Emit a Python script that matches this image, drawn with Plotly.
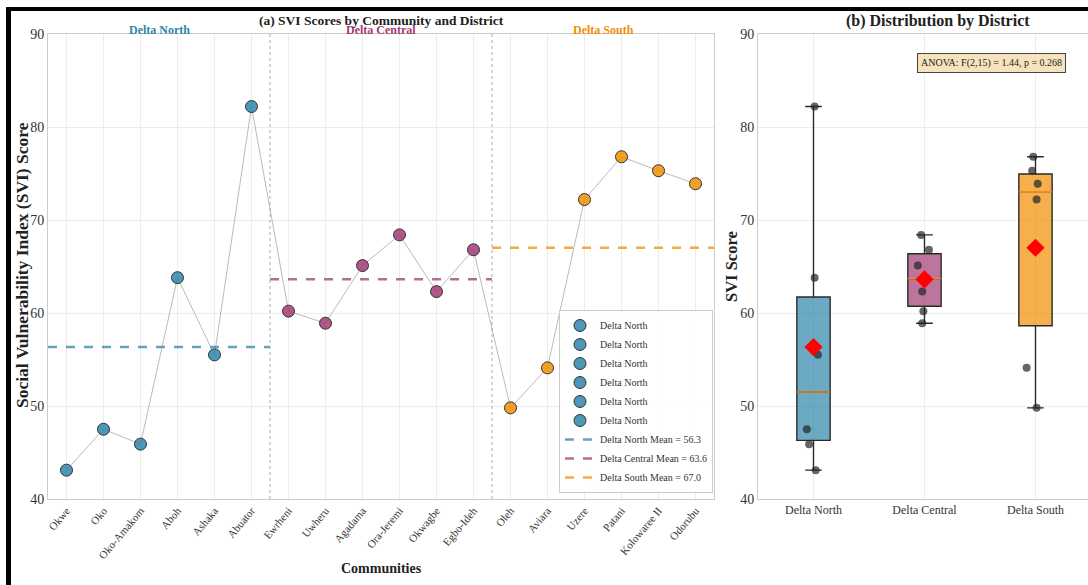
import numpy as np
import plotly.graph_objects as go

# ---- data -------------------------------------------------------------
communities = ["Okwe", "Oko", "Oko-Amakom", "Aboh", "Ashaka", "Abuator",
               "Ewrheni", "Uwheru", "Agadama", "Ora-Jeremi", "Okwagbe", "Egbo-Ideh",
               "Oleh", "Aviara", "Uzere", "Patani", "Kolowaree II", "Odorubu"]
community_district = (["Delta North"] * 6 + ["Delta Central"] * 6 + ["Delta South"] * 6)
svi_scores = [43.1, 47.5, 45.9, 63.8, 55.5, 82.2,
              60.2, 58.9, 65.1, 68.4, 62.3, 66.8,
              49.8, 54.1, 72.2, 76.8, 75.3, 73.9]
district_names = ["Delta North", "Delta Central", "Delta South"]
district_colors = ["#2E86AB", "#A23B72", "#F18F01"]
# horizontal jitter of the sample dots in the box panel (category units)
dot_jitter = [0.02, -0.06, -0.04, 0.01, 0.04, 0.01,
              -0.01, -0.02, -0.06, -0.03, -0.02, 0.04,
              0.01, -0.08, 0.01, -0.02, -0.03, 0.02]
anova_text = "ANOVA: F(2,15) = 1.44, p = 0.268"

W, H = 1088, 585
FONT = "Liberation Serif"


def rgba(hex_color, a):
    h = hex_color.lstrip("#")
    r, g, b = int(h[0:2], 16), int(h[2:4], 16), int(h[4:6], 16)
    return f"rgba({r},{g},{b},{a})"


def px(xp):
    return xp / W


def py(yp):
    return 1 - yp / H


fig = go.Figure()
positions = np.arange(len(communities))
scores = np.array(svi_scores)
dists = np.array(community_district)

# ---- panel (a): scores by community -----------------------------------
fig.add_trace(go.Scatter(
    x=positions, y=scores, mode="lines",
    line=dict(color="rgba(140,140,140,0.6)", width=1),
    showlegend=False, hoverinfo="skip", xaxis="x", yaxis="y"))

for i, (name, d, v) in enumerate(zip(communities, community_district, svi_scores)):
    c = district_colors[district_names.index(d)]
    fig.add_trace(go.Scatter(
        x=[i], y=[v], mode="markers", name="Delta North",
        marker=dict(size=12, color=rgba(c, 0.85), line=dict(color="#333333", width=1)),
        showlegend=(d == "Delta North"), legendgroup=f"pt{i}",
        xaxis="x", yaxis="y"))

for d, c in zip(district_names, district_colors):
    idx = positions[dists == d]
    m = scores[dists == d].mean()
    fig.add_trace(go.Scatter(
        x=[idx.min() - 0.5, idx.max() + 0.5], y=[m, m], mode="lines",
        name=f"{d} Mean = {m:.1f}",
        line=dict(color=rgba(c, 0.75), width=2.5, dash="dash"),
        xaxis="x", yaxis="y"))

shapes = []
annotations = []
for d, c in zip(district_names, district_colors):
    idx = positions[dists == d]
    if idx.min() > 0:
        shapes.append(dict(type="line", xref="x", yref="y domain",
                           x0=idx.min() - 0.5, x1=idx.min() - 0.5, y0=0, y1=1,
                           line=dict(color="rgba(150,150,150,0.8)", width=1, dash="dot")))
    annotations.append(dict(x=idx.mean(), y=90, xref="x", yref="y", yshift=4,
                            xanchor="center", yanchor="middle",
                            text=f"<b>{d}</b>", showarrow=False,
                            font=dict(family=FONT, size=12, color=c)))

# ---- panel (b): distribution by district ------------------------------
for k, (d, c) in enumerate(zip(district_names, district_colors)):
    vals = scores[dists == d]
    q1, med, q3 = np.percentile(vals, [25, 50, 75])
    iqr = q3 - q1
    lo = vals[vals >= q1 - 1.5 * iqr].min()
    hi = vals[vals <= q3 + 1.5 * iqr].max()
    fig.add_trace(go.Box(
        x=[k], q1=[q1], median=[med], q3=[q3], lowerfence=[lo], upperfence=[hi],
        width=0.3, whiskerwidth=0.5, fillcolor=rgba(c, 0.7),
        line=dict(color="#2a2a2a", width=1.4), boxpoints=False,
        showlegend=False, hoverinfo="skip", xaxis="x2", yaxis="y2"))
    fig.add_trace(go.Scatter(
        x=[k - 0.15, k + 0.15], y=[med, med], mode="lines",
        line=dict(color="#F5871F", width=1.5), showlegend=False,
        hoverinfo="skip", xaxis="x2", yaxis="y2"))
    jit = np.array(dot_jitter)[dists == d]
    fig.add_trace(go.Scatter(
        x=k + jit, y=vals, mode="markers",
        marker=dict(size=8, color="rgba(35,35,35,0.7)"),
        showlegend=False, xaxis="x2", yaxis="y2"))
    fig.add_trace(go.Scatter(
        x=[k], y=[vals.mean()], mode="markers",
        marker=dict(symbol="diamond", size=14, color="#FF0000"),
        showlegend=False, xaxis="x2", yaxis="y2"))


def label(x, y, text, size, angle=0, **extra):
    d = dict(x=px(x), y=py(y), xref="paper", yref="paper", text=text,
             showarrow=False, xanchor="center", yanchor="middle", textangle=angle,
             font=dict(family=FONT, size=size, color="#222222"))
    d.update(extra)
    return d


annotations += [
    label(381, 21, "<b>(a) SVI Scores by Community and District</b>", 13.5),
    label(938, 21, "<b>(b) Distribution by District</b>", 16),
    label(381, 568, "<b>Communities</b>", 14),
    label(22, 265, "<b>Social Vulnerability Index (SVI) Score</b>", 17.5, angle=-90),
    label(732, 267, "<b>SVI Score</b>", 16.5, angle=-90),
    label(991, 63, anova_text, 10,
          bgcolor="rgba(245,222,179,0.85)", bordercolor="#444444",
          borderwidth=1, borderpad=3),
]

# frame around the figure
shapes += [
    dict(type="rect", xref="paper", yref="paper", x0=px(6), x1=1,
         y0=py(11), y1=py(7), fillcolor="black", line=dict(width=0), layer="above"),
    dict(type="rect", xref="paper", yref="paper", x0=px(6), x1=px(11),
         y0=0, y1=py(7), fillcolor="black", line=dict(width=0), layer="above"),
]

axis_common = dict(showgrid=True, gridcolor="#ececec", gridwidth=1,
                   showline=True, linecolor="#cccccc", linewidth=1, mirror=True,
                   zeroline=False, ticks="", automargin=False)

fig.update_layout(
    width=W, height=H,
    margin=dict(l=0, r=0, t=0, b=0),
    paper_bgcolor="white", plot_bgcolor="white",
    font=dict(family=FONT, color="#333333"),
    xaxis=dict(domain=[px(48), px(714)], range=[-0.5, 17.5],
               tickvals=list(positions), ticktext=communities, tickangle=-50,
               tickfont=dict(size=11, color="#333333"), anchor="y", **axis_common),
    yaxis=dict(domain=[py(499), py(34)], range=[40, 90], dtick=10,
               tickfont=dict(size=14, color="#333333"), anchor="x", **axis_common),
    xaxis2=dict(domain=[px(758), 1.0], range=[-0.5, 2.5 - 3 / 111.5],
                tickvals=[0, 1, 2], ticktext=district_names,
                tickfont=dict(size=12, color="#333333"), anchor="y2", **axis_common),
    yaxis2=dict(domain=[py(499), py(34)], range=[40, 90], dtick=10,
                tickfont=dict(size=14, color="#333333"), anchor="x2", **axis_common),
    legend=dict(x=px(713), y=py(493), xanchor="right", yanchor="bottom",
                bgcolor="rgba(255,255,255,0.9)", bordercolor="#cccccc", borderwidth=1,
                font=dict(family=FONT, size=10, color="#333333"),
                tracegroupgap=0, itemwidth=30),
    shapes=shapes, annotations=annotations,
)

fig.write_html("out.html")
